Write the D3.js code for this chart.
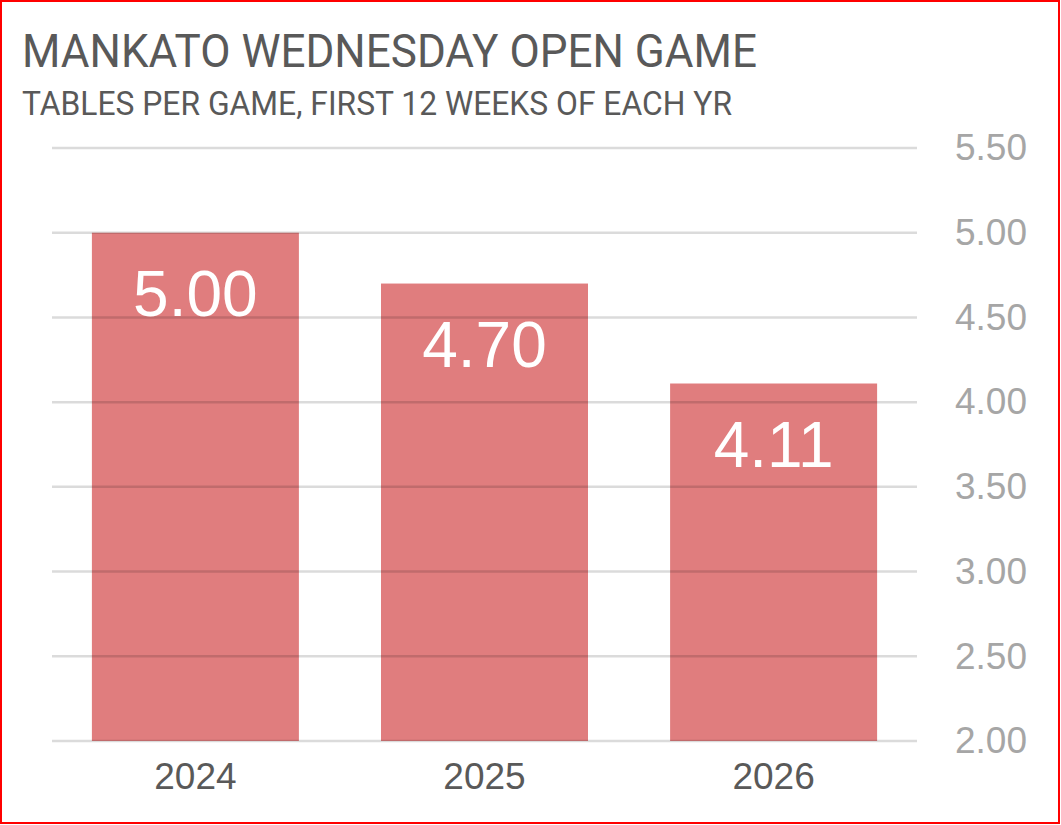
<!DOCTYPE html>
<html lang="en">

<head>
    <meta charset="UTF-8">
    <title>Mankato Wednesday Open Game</title>
    <style>
        body {
            margin: 0;
            padding: 0;
            overflow: hidden;
            background: #fff;
        }
    </style>
</head>

<body>
    <script src="https://d3js.org/d3.v7.min.js"></script>
    <script>
        // Chart data
        const years = ["2024", "2025", "2026"];
        const tablesPerGame = [5.00, 4.70, 4.11];
        const yTicks = [2.0, 2.5, 3.0, 3.5, 4.0, 4.5, 5.0, 5.5];
        const titleText = "MANKATO WEDNESDAY OPEN GAME";
        const subtitleText = "TABLES PER GAME, FIRST 12 WEEKS OF EACH YR";

        const width = 1061;
        const height = 825;

        const svg = d3.select("body").append("svg")
            .attr("width", width)
            .attr("height", height);

        svg.append("rect")
            .attr("width", width)
            .attr("height", height)
            .attr("fill", "#fff");

        // Plot area
        const plotLeft = 52, plotRight = 917, plotTop = 148, plotBottom = 741;

        const x = d3.scaleBand()
            .domain(years)
            .range([plotLeft, plotRight])
            .paddingInner(0.284)
            .paddingOuter(0.138);

        const y = d3.scaleLinear()
            .domain([2, 5.5])
            .range([plotBottom, plotTop]);

        // Bars
        svg.selectAll(".bar")
            .data(years)
            .enter().append("rect")
            .attr("class", "bar")
            .attr("x", d => x(d))
            .attr("width", x.bandwidth())
            .attr("y", (d, i) => y(tablesPerGame[i]))
            .attr("height", (d, i) => y(2) - y(tablesPerGame[i]))
            .attr("fill", "#E07D7E");

        // Gridlines (drawn on top, semi-transparent)
        svg.selectAll(".grid")
            .data(yTicks)
            .enter().append("line")
            .attr("x1", plotLeft)
            .attr("x2", plotRight)
            .attr("y1", d => y(d))
            .attr("y2", d => y(d))
            .attr("stroke", "rgba(0,0,0,0.14)")
            .attr("stroke-width", 2.5);

        // Right axis
        const yAxis = svg.append("g")
            .attr("transform", `translate(${plotRight},0)`)
            .call(d3.axisRight(y).tickValues(yTicks).tickFormat(d3.format(".2f")).tickSize(0).tickPadding(38));
        yAxis.select(".domain").remove();
        yAxis.selectAll("text")
            .attr("font-family", "Liberation Sans, Arial, sans-serif")
            .attr("font-size", 37)
            .attr("fill", "#A6A6A6");

        // Bottom axis
        const xAxis = svg.append("g")
            .attr("transform", `translate(0,${plotBottom})`)
            .call(d3.axisBottom(x).tickSize(0).tickPadding(22));
        xAxis.select(".domain").remove();
        xAxis.selectAll("text")
            .attr("font-family", "Liberation Sans, Arial, sans-serif")
            .attr("font-size", 37)
            .attr("fill", "#595959");

        // Value labels
        svg.selectAll(".label")
            .data(years)
            .enter().append("text")
            .attr("x", d => x(d) + x.bandwidth() / 2)
            .attr("y", (d, i) => y(tablesPerGame[i]) + 83)
            .attr("text-anchor", "middle")
            .attr("font-family", "Liberation Sans, Arial, sans-serif")
            .attr("font-size", 64)
            .attr("fill", "#fff")
            .text((d, i) => tablesPerGame[i].toFixed(2));

        // Title and subtitle
        svg.append("text")
            .attr("x", 22)
            .attr("y", 67)
            .attr("font-family", "Roboto, sans-serif")
            .attr("font-size", 47)
            .attr("fill", "#595959")
            .attr("textLength", 735)
            .attr("lengthAdjust", "spacingAndGlyphs")
            .text(titleText);

        svg.append("text")
            .attr("x", 22)
            .attr("y", 115)
            .attr("font-family", "Roboto, sans-serif")
            .attr("font-size", 33)
            .attr("fill", "#595959")
            .attr("textLength", 710)
            .attr("lengthAdjust", "spacingAndGlyphs")
            .text(subtitleText);

        // Red outer border
        svg.append("rect")
            .attr("x", 1)
            .attr("y", 1)
            .attr("width", width - 3)
            .attr("height", height - 3)
            .attr("fill", "none")
            .attr("stroke", "#FF0000")
            .attr("stroke-width", 2);
    </script>
</body>

</html>
